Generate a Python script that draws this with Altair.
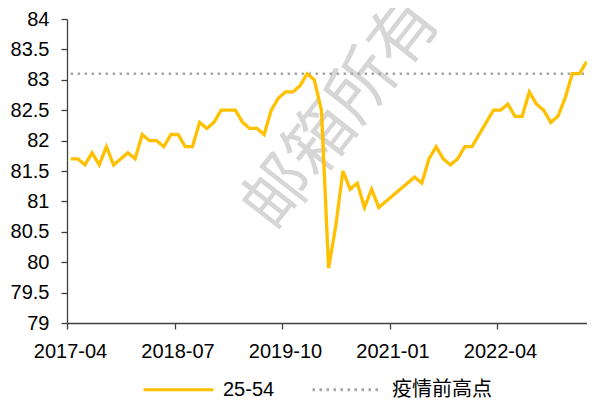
import altair as alt
import pandas as pd

# ---- data ----
start_month = "2017-04"
lfpr_25_54 = [81.7, 81.7, 81.6, 81.8, 81.6, 81.9, 81.6, 81.7, 81.8, 81.7,
              82.1, 82.0, 82.0, 81.9, 82.1, 82.1, 81.9, 81.9, 82.3, 82.2,
              82.3, 82.5, 82.5, 82.5, 82.3, 82.2, 82.2, 82.1, 82.5, 82.7,
              82.8, 82.8, 82.9, 83.1, 83.0, 82.5, 79.9, 80.6, 81.5, 81.2,
              81.3, 80.9, 81.2, 80.9, 81.0, 81.1, 81.2, 81.3, 81.4, 81.3,
              81.7, 81.9, 81.7, 81.6, 81.7, 81.9, 81.9, 82.1, 82.3, 82.5,
              82.5, 82.6, 82.4, 82.4, 82.8, 82.6, 82.5, 82.3, 82.4, 82.7,
              83.1, 83.1, 83.3]
pre_covid_high = 83.1
tick_labels = ["2017-04", "2018-07", "2019-10", "2021-01", "2022-04"]
series_names = ["25-54", "疫情前高点"]
y_ticks = [79, 79.5, 80, 80.5, 81, 81.5, 82, 82.5, 83, 83.5, 84]
watermark_text = ["邮箱所有"]

# ---- build tables ----
sy, sm = map(int, start_month.split("-"))
def month_index(label):
    y, m = map(int, label.split("-"))
    return (y - sy) * 12 + (m - sm)

n = len(lfpr_25_54)
months = [(pd.Period(start_month, "M") + i).strftime("%Y-%m") for i in range(n)]
t = [month_index(m) + 0.5 for m in months]  # observations sit mid-month

df = pd.concat([
    pd.DataFrame({"t": t, "month": months, "value": lfpr_25_54, "series": series_names[0]}),
    pd.DataFrame({"t": t, "month": months, "value": [pre_covid_high] * n, "series": series_names[1]}),
])

tick_vals = [month_index(l) for l in tick_labels]
label_expr = "{" + ",".join(f"'{v}':'{l}'" for v, l in zip(tick_vals, tick_labels)) + "}[datum.value]"

W, H = 520, 304
x_max = 72.55

font = "Liberation Sans, Arial, Noto Sans CJK SC"
x = alt.X("t:Q", scale=alt.Scale(domain=[0, x_max], nice=False, zero=False),
          axis=alt.Axis(values=tick_vals, labelExpr=label_expr, title=None, grid=False,
                        tickSize=6, labelPadding=12, labelOffset=3, labelFlush=False,
                        labelOverlap=False))
y = alt.Y("value:Q", scale=alt.Scale(domain=[79, 84], nice=False, zero=False),
          axis=alt.Axis(values=y_ticks, format=".1~f", title=None, grid=False,
                        tickSize=6, labelPadding=12))
color = alt.Color("series:N", scale=alt.Scale(domain=series_names, range=["#FFC000", "#A6A6A6"]),
                  legend=alt.Legend(title=None, orient="none", direction="horizontal",
                                    legendX=75, legendY=334, symbolType="stroke",
                                    symbolSize=4900, symbolStrokeWidth=3, labelOffset=8,
                                    columnPadding=31, padding=0, labelFontSize=20,
                                    labelFont=font, labelColor="#000000"))
dash = alt.StrokeDash("series:N", scale=alt.Scale(domain=series_names, range=[[1, 0], [2.5, 4.5]]),
                      legend=None)

base = alt.Chart(df)
peak_line = base.transform_filter(alt.datum.series == series_names[1]).mark_line(strokeWidth=2.5).encode(
    x=x, y=y, color=color, strokeDash=dash)
main_line = base.transform_filter(alt.datum.series == series_names[0]).mark_line(strokeWidth=3.3).encode(
    x=x, y=y, color=color, strokeDash=dash)

watermark = alt.Chart(pd.DataFrame({"txt": watermark_text})).mark_text(
    font="Noto Sans CJK SC", fontSize=68, color="#D6D6D6", angle=308,
    align="center", baseline="middle").encode(
    text="txt:N", x=alt.value(276), y=alt.value(95))

chart = alt.layer(watermark, peak_line, main_line).properties(
    width=W, height=H,
    autosize=alt.AutoSizeParams(type="none"),
    padding={"left": 59, "top": 11, "right": 0, "bottom": 82},
).configure_view(stroke=None).configure_axis(
    domainColor="#404040", domainWidth=1.3, tickColor="#404040", tickWidth=1.3,
    labelFont=font, labelFontSize=20, labelColor="#000000",
)

chart.save("out.html", embed_options={"renderer": "svg", "actions": False})
